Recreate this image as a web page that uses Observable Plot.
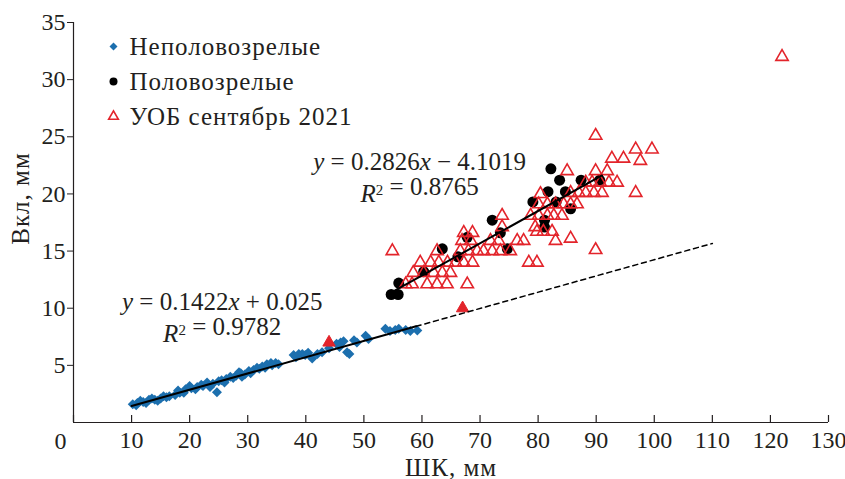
<!DOCTYPE html>
<html><head><meta charset="utf-8">
<script src="https://cdn.jsdelivr.net/npm/d3@7"></script>
<script src="https://cdn.jsdelivr.net/npm/@observablehq/plot@0.6"></script>
<style>
body{margin:0;background:#fff;}
#chart svg{display:block;}
#chart svg, #chart svg text{font-family:"Liberation Serif","Times New Roman",serif !important;}
</style>
</head><body><div id="chart"></div>
<script>
// ---- Data ----
const xTicks = [0,10,20,30,40,50,60,70,80,90,100,110,120,130];
const yTicks = [5,10,15,20,25,30,35];
const xLabel = "ШК, мм";
const yLabel = "Вкл, мм";
const legendLabels = ["Неполовозрелые", "Половозрелые", "УОБ сентябрь 2021"];

// Неполовозрелые (blue diamonds)
const immatureX = [10.2,10.8,11.0,11.5,12.0,12.5,13.0,13.5,14.0,14.5,15.0,15.5,16.0,16.5,17.5,18.0,18.3,19.0,19.3,20.0,20.3,21.0,21.3,22.0,22.3,23.0,23.5,24.0,24.7,25.0,25.5,26.0,26.3,27.0,27.5,28.0,28.5,28.8,29.0,29.5,30.2,30.5,31.0,31.6,32.0,32.5,33.0,33.3,34.0,34.2,34.8,35.3,37.9,38.3,38.8,39.4,39.9,40.4,41.1,42.0,42.8,44.0,45.3,45.8,46.0,46.5,47.1,47.5,48.3,48.8,50.3,50.8,53.7,54.5,55.4,56.0,57.2,58.0,59.2];
const immatureY = [1.6,1.5,1.7,1.9,1.8,1.7,2.0,2.1,2.0,1.9,2.1,2.3,2.2,2.3,2.4,2.8,2.6,2.6,2.9,3.2,3.0,2.9,3.1,3.3,3.2,3.5,3.1,3.4,2.65,3.6,3.7,3.5,3.8,4.0,3.9,4.1,4.4,4.3,4.0,4.2,4.5,4.3,4.6,4.8,4.7,4.9,4.8,5.1,5.2,5.0,5.2,5.1,5.9,5.7,6.0,6.0,5.9,6.1,5.6,6.0,6.15,6.5,6.9,6.6,7.0,7.1,6.15,6.0,7.2,7.0,7.6,7.3,8.2,8.0,8.1,8.2,8.1,8.0,8.05];

// Половозрелые (black circles)
const matureX = [54.7,55.9,56.0,60.3,63.5,66.2,67.8,72.1,73.5,74.7,79.1,81.1,81.1,81.7,82.2,83.1,83.7,84.7,85.6,87.4,90.6];
const matureY = [11.2,11.2,12.2,13.2,15.2,14.5,16.2,17.7,16.6,15.2,19.3,17.7,17.1,20.2,22.2,19.3,21.2,20.2,18.7,21.2,21.2];

// УОБ сентябрь 2021 (red open triangles)
const uobX = [54.9,57.2,58.3,60.9,62.6,64.3,67.8,58.5,60.3,62.0,63.5,64.9,59.7,61.5,62.9,64.4,65.8,67.2,68.7,62.6,66.6,68.0,69.5,70.6,72.1,73.5,75.2,66.9,68.4,71.8,73.2,76.4,77.5,83.0,85.6,67.2,68.7,79.8,80.9,82.4,73.8,79.5,78.4,79.8,89.9,73.8,78.7,80.1,81.6,82.7,84.1,80.1,81.6,83.0,84.4,85.6,86.7,80.4,85.6,87.0,88.2,89.6,91.0,96.8,88.2,89.3,90.7,92.2,93.6,85.0,89.9,91.9,92.7,94.7,97.6,96.8,99.6,89.9,122];
const uobY = [15.0,12.1,12.1,12.1,12.1,12.1,12.1,13.1,13.1,13.1,13.1,13.1,14.0,14.0,14.0,14.0,14.0,14.0,14.0,15.0,15.0,15.0,15.0,15.0,15.0,15.0,15.0,15.9,15.9,15.9,15.9,15.9,15.9,15.9,16.1,16.6,16.6,16.7,16.7,16.7,17.1,17.1,14.0,14.0,15.1,18.1,18.1,18.1,18.1,18.1,18.1,19.1,19.1,19.1,19.1,19.1,19.1,20.0,20.1,20.1,20.1,20.1,20.1,20.1,21.0,21.0,21.0,21.0,21.0,22.0,22.0,22.0,23.1,23.1,22.9,23.9,23.9,25.1,32.0];

// filled red triangles
const uobFilledX = [44, 67];
const uobFilledY = [7.0, 10.0];

// regression fits
const fitImmature = {slope: 0.1422, intercept: 0.025, from: 10, to: 59, extTo: 110};
const fitMature = {slope: 0.2826, intercept: -4.1019, from: 55, to: 91};
const eqMature = ["y = 0.2826x − 4.1019", "R² = 0.8765"];
const eqMaturePos = {x: 59.6, y: [22.77, 20.0]};
const eqImmature = ["y = 0.1422x + 0.025", "R² = 0.9782"];
const eqImmaturePos = {x: 25.6, y: [10.52, 7.76]};

// ---- Style ----
const W = 845, H = 479;
const mL = 73, mR = 17, mT = 22, mB = 57;
const innerH = H - mT - mB;
const FONT = "Liberation Serif";
const INK = "#231f20";
const BLUE = "#1c6fae";
const RED = "#e3242b";

const pts = (xs, ys) => xs.map((x, i) => ({x, y: ys[i]}));
const fitLine = (f, a, b) => [a, b].map(x => ({x, y: f.slope * x + f.intercept}));

const legendMarks = [];
const legendRowsY = [46, 81, 116];
const legendSym = [
  {symbol: "diamond2", fill: BLUE, stroke: "none", r: 3.6},
  {symbol: "circle", fill: "#000", stroke: "none", r: 4},
  {symbol: "triangle", fill: "none", stroke: RED, r: 3.6, strokeWidth: 1.6}
];
legendLabels.forEach((lab, i) => {
  legendMarks.push(Plot.dot([lab], {frameAnchor: "top-left", dx: 113 - mL, dy: legendRowsY[i] - mT, ...legendSym[i]}));
  legendMarks.push(Plot.text([lab], {frameAnchor: "top-left", dx: 129 - mL, dy: legendRowsY[i] - mT, text: d => d, textAnchor: "start", lineAnchor: "middle", fontSize: 25, fontFamily: FONT, fill: INK}));
});

const plot = Plot.plot({
  width: W, height: H,
  marginLeft: mL, marginRight: mR, marginTop: mT, marginBottom: mB,
  style: {fontFamily: FONT, fontSize: "24px", color: INK, background: "#fff", overflow: "visible"},
  x: {domain: [0, 130]},
  y: {domain: [0, 35]},
  marks: [
    Plot.ruleX([0], {y1: 0, y2: 35, stroke: INK, strokeWidth: 1.2}),
    Plot.ruleY([0], {x1: 0, x2: 130, stroke: INK, strokeWidth: 1.2}),
    Plot.axisY(yTicks, {tickSize: 6, tickPadding: 2, label: null, fontSize: 24, fontFamily: FONT, stroke: INK, fill: INK}),
    Plot.axisX(xTicks, {tickSize: 0, tickPadding: 8, label: null, fontSize: 24, fontFamily: FONT, fill: INK, tickFormat: d => d === 0 ? "" : String(d)}),
    Plot.text([xTicks[0]], {x: d => d, frameAnchor: "bottom", dy: 19, dx: -13, text: d => String(d), lineAnchor: "middle", fontSize: 24, fontFamily: FONT, fill: INK}),
    Plot.ruleX(xTicks, {x: d => d, insetTop: innerH - 7, stroke: INK, strokeWidth: 1.2}),
    Plot.text([xLabel], {frameAnchor: "bottom", dy: 45, text: d => d, textAnchor: "middle", lineAnchor: "middle", fontSize: 25, fontFamily: FONT, fill: INK}),
    Plot.text([yLabel], {frameAnchor: "left", dx: -53, dy: -24, text: d => d, rotate: -90, textAnchor: "middle", lineAnchor: "middle", fontSize: 25, fontFamily: FONT, fill: INK}),
    // data
    Plot.dot(pts(immatureX, immatureY), {x: "x", y: "y", symbol: "diamond2", fill: BLUE, r: 4.5}),
    Plot.dot(pts(matureX, matureY), {x: "x", y: "y", symbol: "circle", fill: "#000", r: 5.5}),
    Plot.dot(pts(uobX, uobY), {x: "x", y: "y", symbol: "triangle", fill: "none", stroke: RED, strokeWidth: 1.6, r: 4.6}),
    Plot.dot(pts(uobFilledX, uobFilledY), {x: "x", y: "y", symbol: "triangle", fill: RED, stroke: RED, strokeWidth: 1, r: 4.6}),
    // fits
    Plot.line(fitLine(fitImmature, fitImmature.from, fitImmature.to), {x: "x", y: "y", stroke: "#000", strokeWidth: 2}),
    Plot.line(fitLine(fitImmature, fitImmature.to, fitImmature.extTo), {x: "x", y: "y", stroke: "#000", strokeWidth: 1.5, strokeDasharray: "5,4"}),
    Plot.line(fitLine(fitMature, fitMature.from, fitMature.to), {x: "x", y: "y", stroke: "#000", strokeWidth: 2}),
    // equations
    Plot.text(eqMature.map((t, i) => ({t, y: eqMaturePos.y[i]})), {x: () => eqMaturePos.x, y: "y", text: "t", fontSize: 25, fontFamily: FONT, fill: INK, lineAnchor: "middle"}),
    Plot.text(eqImmature.map((t, i) => ({t, y: eqImmaturePos.y[i]})), {x: () => eqImmaturePos.x, y: "y", text: "t", fontSize: 25, fontFamily: FONT, fill: INK, lineAnchor: "middle"}),
    ...legendMarks
  ]
});
document.getElementById("chart").appendChild(plot);

// italicize math variables, superscript the 2; widen legend/axis-title spacing
const eqStrings = new Set([...eqMature, ...eqImmature]);
const spaced = new Set([...legendLabels, xLabel, yLabel]);
d3.select(plot).selectAll("text").each(function() {
  const t = this.textContent;
  if (spaced.has(t)) this.style.letterSpacing = "1px";
  if (!eqStrings.has(t)) return;
  const html = t.replace(/[xyR]|²/g, m => m === "²"
    ? '<tspan dy="-7" font-size="15">2</tspan><tspan dy="7"></tspan>'
    : `<tspan font-style="italic">${m}</tspan>`);
  this.innerHTML = html;
});
</script>
</body></html>
